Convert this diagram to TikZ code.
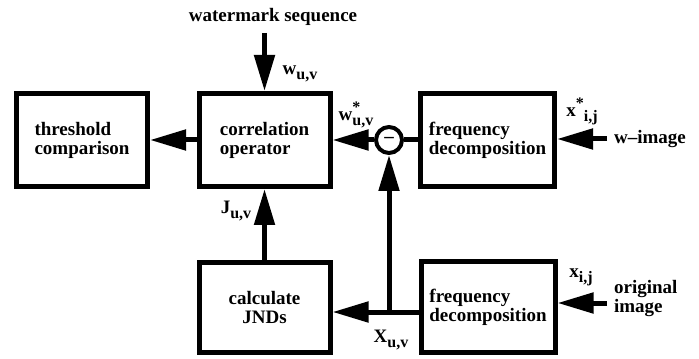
\documentclass[tikz,border=0pt]{standalone}
\usepackage{fontspec}
\setmainfont{Liberation Serif}
\usetikzlibrary{arrows.meta}
\def\lo#1{\raisebox{-0.55ex}{\fontsize{8}{8}\selectfont #1}}
\def\hi#1{\raisebox{0.95ex}{\fontsize{8}{8}\selectfont #1}}

\begin{document}
\begin{tikzpicture}[x=0.5pt, y=0.5pt,
	every node/.style={font=\fontsize{9.5}{9.5}\selectfont\bfseries},
	blockbox/.style={draw, line width=2.5pt, minimum width=65.5pt, minimum height=46.5pt, inner sep=0pt, align=left},
	flow/.style={line width=2.5pt, -{Triangle[length=18pt, width=10pt]}},
	plain/.style={line width=2.5pt}]
			%%%%% START %%%%%
			
			\useasboundingbox (0, 0) rectangle (699, 358);
			
			% blocks
			\node[blockbox] (thresh) at (82, 218) {threshold\\comparison};
			\node[blockbox] (corr) at (264.5, 218) {correlation\\operator};
			\node[blockbox, minimum width=67pt] (freqtop) at (487.5, 218) {frequency\\decomposition};
			\node[blockbox, minimum height=45pt, align=center] (jnds) at (264.5, 50.5) {calculate\\JNDs};
			\node[blockbox, minimum width=67pt, minimum height=45.5pt] (freqbot) at (488, 51) {frequency\\decomposition};
			\node[draw, circle, line width=2pt, minimum size=13pt, inner sep=0pt] (diff) at (389, 218) {\raisebox{-0.25ex}{\textendash}};
			
			% inputs
			\node (wmseq) at (273, 341) {watermark sequence};
			\coordinate (wmtail) at (264.5, 325);
			\node[anchor=west] (wimage) at (607, 219) {w\textendash image};
			\node[anchor=west, align=left] (origimg) at (607, 59) {original\\image};
			\coordinate (split) at (389, 45);
			
			% labels
			\node (wuv) at (300, 284) {w\lo{u,v}};
			\node (wstar) at (356, 243) {w\rlap{\hi{*}}\lo{u,v}};
			\node (xstar) at (582, 247) {x\hi{*}\lo{i,j}};
			\node (xij) at (581, 81) {x\lo{i,j}};
			\node (juv) at (236, 147) {J\lo{u,v}};
			\node (xuv) at (391, 18) {X\lo{u,v}};
			
			% connectors
			\draw[flow] (wmtail) -- (corr.north);
			\draw[flow] (corr.west) -- (thresh.east);
			\draw[flow] (diff.west) -- (diff.west -| corr.east);
			\draw[plain] (freqtop.west) -- (freqtop.west -| diff.east);
			\draw[flow] (wimage.west) -- (wimage.west -| freqtop.east);
			\draw[flow] (jnds.north) -- (corr.south);
			\draw[flow] ([yshift=-2.5pt]freqbot.west) -- ([yshift=-2.5pt]freqbot.west -| jnds.east);
			\draw[flow] (split) -- (diff.south);
			\draw[flow] ([yshift=-2pt]origimg.west) -- ([yshift=-2pt]origimg.west -| freqbot.east);
			
			%%%%% END %%%%%
		\end{tikzpicture}
\end{document}
